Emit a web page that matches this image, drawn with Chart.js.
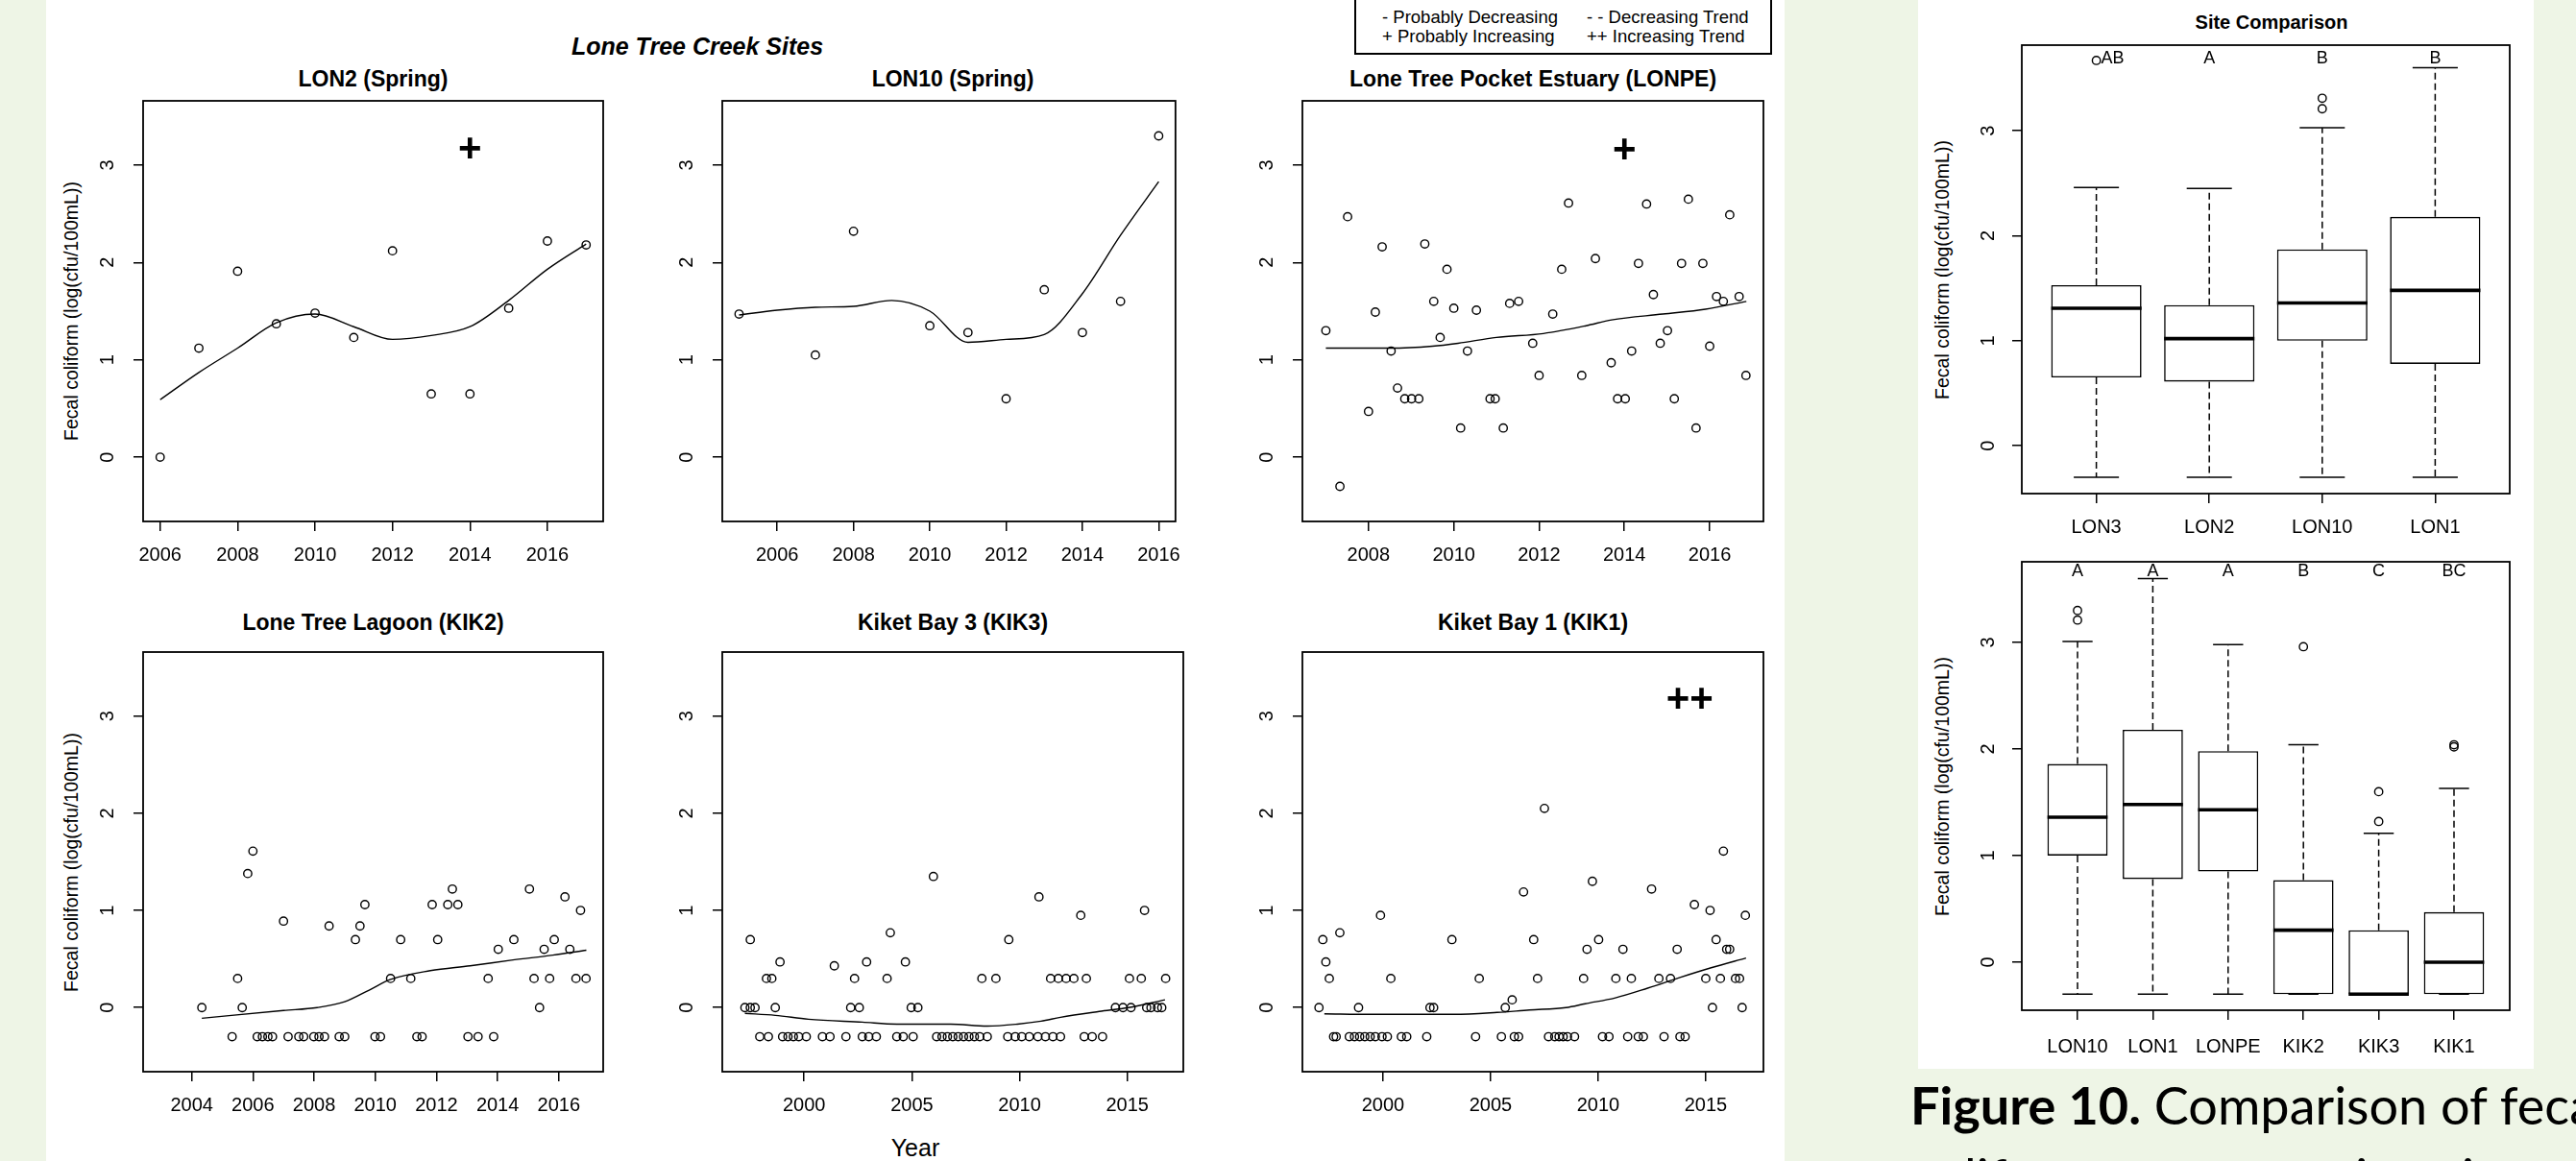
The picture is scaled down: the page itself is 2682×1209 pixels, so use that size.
<!DOCTYPE html>
<html>
<head>
<meta charset="utf-8">
<script src="https://cdn.jsdelivr.net/npm/chart.js@4.4.0/dist/chart.umd.min.js"></script>
<style>
  body { margin: 0; width: 2682px; height: 1209px; background: #eef5e6; position: relative; overflow: hidden;
         font-family: "Liberation Sans", Arial, sans-serif; color: #000; }
  .panel { position: absolute; background: #fff; }
  .t { position: absolute; transform: translate(-50%, -50%); white-space: nowrap; }
  .main { font-weight: bold; font-size: 23px; }
  .ylab { font-size: 19.5px; transform: translate(-50%, -50%) rotate(-90deg); }
  .legend { position: absolute; border: 2px solid #000; background: #fff; }
  .leg { position: absolute; font-size: 18.5px; white-space: nowrap; transform: translateY(-50%); }
  .caption { position: absolute; left: 1989px; top: 1113px; font-family: Lato, "Open Sans", sans-serif;
             font-size: 54px; line-height: 75px; white-space: nowrap; }
</style>
</head>
<body>
<div class="panel" style="left:48px;top:0;width:1810px;height:1209px"></div>
<div class="panel" style="left:1997px;top:0;width:641px;height:1113px"></div>

<div class="legend" style="left:1410px;top:-4px;width:431px;height:57px"></div>
<div class="leg" style="left:1439px;top:18px">- Probably Decreasing</div>
<div class="leg" style="left:1439px;top:38px">+ Probably Increasing</div>
<div class="leg" style="left:1652px;top:18px">- - Decreasing Trend</div>
<div class="leg" style="left:1652px;top:38px">++ Increasing Trend</div>

<div class="caption"><b>Figure 10.</b> Comparison of fecal<br>coliform concentrations in</div>

<script>
// ---------- data ----------
const yTicks = [0, 1, 2, 3];

const lon2Ticks = [2006, 2008, 2010, 2012, 2014, 2016];
const lon10Ticks = [2006, 2008, 2010, 2012, 2014, 2016];
const lonpeTicks = [2008, 2010, 2012, 2014, 2016];
const kik2Ticks = [2004, 2006, 2008, 2010, 2012, 2014, 2016];
const kik3Ticks = [2000, 2005, 2010, 2015];
const kik1Ticks = [2000, 2005, 2010, 2015];

// [year, log fecal coliform]
const lon2Points = [[2006,0],[2007,1.12],[2008,1.91],[2009,1.37],[2010,1.48],[2011,1.23],
  [2012,2.12],[2013,0.65],[2014,0.65],[2015,1.53],[2016,2.22],[2017,2.18]];
const lon2Trend = [[2006,0.59],[2007,0.87],[2008,1.12],[2009,1.38],[2010,1.47],[2011,1.34],
  [2012,1.21],[2013,1.25],[2014,1.34],[2015,1.61],[2016,1.93],[2017,2.19]];

const lon10Points = [[2005,1.47],[2007,1.05],[2008,2.32],[2010,1.35],[2011,1.28],[2012,0.6],
  [2013,1.72],[2014,1.28],[2015,1.6],[2016,3.3]];
const lon10Trend = [[2005,1.46],[2006,1.51],[2007,1.54],[2008,1.55],[2009,1.61],[2010,1.5],
  [2011,1.18],[2012,1.21],[2013,1.26],[2014,1.68],[2015,2.28],[2016,2.83]];

const lonpePoints = [[2007.0,1.3],[2007.33,-0.3],[2007.51,2.47],[2008.0,0.47],[2008.16,1.49],
  [2008.32,2.16],[2008.53,1.09],[2008.68,0.71],[2008.85,0.6],[2009.01,0.6],[2009.18,0.6],
  [2009.32,2.19],[2009.53,1.6],[2009.68,1.23],[2009.84,1.93],[2010.0,1.53],[2010.16,0.3],
  [2010.32,1.09],[2010.53,1.51],[2010.85,0.6],[2010.97,0.6],[2011.16,0.3],[2011.31,1.58],
  [2011.52,1.6],[2011.85,1.17],[2012.0,0.84],[2012.32,1.47],[2012.53,1.93],[2012.69,2.61],
  [2013.0,0.84],[2013.32,2.04],[2013.69,0.97],[2013.84,0.6],[2014.02,0.6],[2014.17,1.09],
  [2014.33,1.99],[2014.52,2.6],[2014.68,1.67],[2014.84,1.17],[2015.01,1.3],[2015.17,0.6],
  [2015.34,1.99],[2015.5,2.65],[2015.68,0.3],[2015.84,1.99],[2016.0,1.14],[2016.16,1.65],
  [2016.32,1.6],[2016.47,2.49],[2016.69,1.65],[2016.85,0.84]];
const lonpeTrend = [[2007.0,1.12],[2008.5,1.12],[2009.5,1.14],[2010.1,1.17],[2011.0,1.23],
  [2012.1,1.27],[2013.1,1.35],[2013.7,1.41],[2014.9,1.47],[2015.9,1.52],[2016.86,1.6]];

const kik2Points = [[2004.33,0],[2005.32,-0.3],[2005.5,0.3],[2005.65,0],[2005.83,1.38],[2006.0,1.61],
  [2006.14,-0.3],[2006.31,-0.3],[2006.49,-0.3],[2006.64,-0.3],[2007.0,0.89],[2007.15,-0.3],
  [2007.5,-0.3],[2007.66,-0.3],[2007.99,-0.3],[2008.16,-0.3],[2008.34,-0.3],[2008.49,0.84],
  [2008.82,-0.3],[2009.0,-0.3],[2009.35,0.7],[2009.5,0.84],[2009.66,1.06],[2009.99,-0.3],
  [2010.17,-0.3],[2010.5,0.3],[2010.83,0.7],[2011.16,0.3],[2011.36,-0.3],[2011.53,-0.3],
  [2011.86,1.06],[2012.04,0.7],[2012.37,1.06],[2012.52,1.22],[2012.7,1.06],[2013.03,-0.3],
  [2013.36,-0.3],[2013.69,0.3],[2013.87,-0.3],[2014.02,0.6],[2014.53,0.7],[2015.04,1.22],
  [2015.19,0.3],[2015.37,0],[2015.52,0.6],[2015.7,0.3],[2015.85,0.7],[2016.2,1.14],
  [2016.36,0.6],[2016.56,0.3],[2016.71,1.0],[2016.89,0.3]];
const kik2Trend = [[2004.33,-0.11],[2005.3,-0.08],[2007.0,-0.03],[2008.1,0],[2009.0,0.06],
  [2009.8,0.18],[2010.5,0.29],[2011.8,0.38],[2013.1,0.43],[2014.5,0.49],[2015.8,0.54],[2016.9,0.59]];

const kik3Points = [[1997.25,0],[1997.5,0],[1997.5,0.7],[1997.72,0],[1997.94,-0.3],[1998.25,0.3],
  [1998.34,-0.3],[1998.5,0.3],[1998.66,0],[1998.88,0.47],[1999.0,-0.3],[1999.25,-0.3],
  [1999.5,-0.3],[1999.75,-0.3],[2000.1,-0.3],[2000.85,-0.3],[2001.2,-0.3],[2001.4,0.43],
  [2001.94,-0.3],[2002.16,0],[2002.34,0.3],[2002.56,0],[2002.7,-0.3],[2002.9,0.47],[2003.0,-0.3],
  [2003.35,-0.3],[2003.85,0.3],[2004.0,0.77],[2004.3,-0.3],[2004.6,-0.3],[2004.7,0.47],
  [2004.97,0],[2005.06,-0.3],[2005.28,0],[2006.0,1.35],[2006.15,-0.3],[2006.4,-0.3],
  [2006.65,-0.3],[2006.9,-0.3],[2007.15,-0.3],[2007.4,-0.3],[2007.65,-0.3],[2007.9,-0.3],
  [2008.15,-0.3],[2008.25,0.3],[2008.5,-0.3],[2008.9,0.3],[2009.45,-0.3],[2009.5,0.7],
  [2009.8,-0.3],[2010.1,-0.3],[2010.45,-0.3],[2010.85,-0.3],[2010.9,1.14],[2011.2,-0.3],
  [2011.44,0.3],[2011.55,-0.3],[2011.8,0.3],[2011.9,-0.3],[2012.16,0.3],[2012.52,0.3],
  [2012.84,0.95],[2013.0,-0.3],[2013.1,0.3],[2013.37,-0.3],[2013.85,-0.3],[2014.45,0],
  [2014.8,0],[2015.1,0.3],[2015.17,0],[2015.65,0.3],[2015.8,1.0],[2015.9,0],[2016.1,0],
  [2016.4,0],[2016.6,0],[2016.78,0.3]];
const kik3Trend = [[1997.25,-0.06],[1998.66,-0.08],[2000.2,-0.12],[2002.7,-0.15],[2004.3,-0.17],
  [2006.8,-0.17],[2008.5,-0.19],[2009.9,-0.17],[2011.0,-0.14],[2011.9,-0.1],[2013.7,-0.04],
  [2015.05,0],[2016.75,0.08]];

const kik1Points = [[1997.02,0],[1997.2,0.7],[1997.34,0.47],[1997.5,0.3],[1997.7,-0.3],[1997.82,-0.3],
  [1997.99,0.77],[1998.43,-0.3],[1998.67,-0.3],[1998.86,0],[1998.91,-0.3],[1999.15,-0.3],
  [1999.4,-0.3],[1999.64,-0.3],[1999.88,0.95],[1999.95,-0.3],[2000.2,-0.3],[2000.36,0.3],
  [2000.85,-0.3],[2001.1,-0.3],[2002.03,-0.3],[2002.18,0],[2002.35,0],[2003.2,0.7],
  [2004.3,-0.3],[2004.47,0.3],[2005.5,-0.3],[2005.68,0],[2006.0,0.08],[2006.1,-0.3],
  [2006.3,-0.3],[2006.53,1.19],[2007.0,0.7],[2007.18,0.3],[2007.5,2.05],[2007.69,-0.3],
  [2007.98,-0.3],[2008.18,-0.3],[2008.37,-0.3],[2008.57,-0.3],[2008.9,-0.3],[2009.32,0.3],
  [2009.48,0.6],[2009.73,1.3],[2010.02,0.7],[2010.2,-0.3],[2010.5,-0.3],[2010.82,0.3],
  [2011.15,0.6],[2011.37,-0.3],[2011.54,0.3],[2011.86,-0.3],[2012.1,-0.3],[2012.48,1.22],
  [2012.82,0.3],[2013.06,-0.3],[2013.36,0.3],[2013.67,0.6],[2013.8,-0.3],[2014.04,-0.3],
  [2014.47,1.06],[2015.0,0.3],[2015.2,1.0],[2015.31,0],[2015.48,0.7],[2015.68,0.3],
  [2015.82,1.61],[2015.97,0.6],[2016.11,0.6],[2016.38,0.3],[2016.57,0.3],[2016.69,0],[2016.84,0.95]];
const kik1Trend = [[1997.27,-0.065],[1999.5,-0.07],[2003.3,-0.07],[2005.3,-0.05],[2006.8,-0.025],
  [2008.5,0],[2009.4,0.04],[2010.8,0.1],[2012.3,0.2],[2013.8,0.31],[2015.25,0.41],[2016.87,0.51]];

// box plot summaries
const topSites = ['LON3', 'LON2', 'LON10', 'LON1'];
const topLow = [-0.3, -0.3, -0.3, -0.3];
const topQ1 = [0.65, 0.61, 1.0, 0.78];
const topMedian = [1.31, 1.02, 1.36, 1.48];
const topQ3 = [1.53, 1.34, 1.87, 2.18];
const topHigh = [2.46, 2.45, 3.03, 3.6];
const topOutliers = [[1, 3.67], [3, 3.31], [3, 3.21]];
const topLetters = ['AB', 'A', 'B', 'B'];

const bottomSites = ['LON10', 'LON1', 'LONPE', 'KIK2', 'KIK3', 'KIK1'];
const bottomLow = [-0.3, -0.3, -0.3, -0.3, -0.3, -0.3];
const bottomQ1 = [1.0, 0.78, 0.85, -0.3, -0.3, -0.3];
const bottomMedian = [1.36, 1.48, 1.43, 0.3, -0.3, 0];
const bottomQ3 = [1.86, 2.18, 1.98, 0.77, 0.3, 0.47];
const bottomHigh = [3.01, 3.6, 2.98, 2.04, 1.21, 1.63];
const bottomOutliers = [[1, 3.30], [1, 3.21], [4, 2.96], [5, 1.6], [5, 1.32], [6, 2.02], [6, 2.04]];
const bottomLetters = ['A', 'A', 'A', 'B', 'C', 'BC'];

// ---------- helpers ----------
const FONT = '"Liberation Sans", Arial, sans-serif';
Chart.defaults.font.family = FONT;
Chart.defaults.color = '#000';

function addText(text, x, y, cls, extra) {
  const d = document.createElement('div');
  d.className = 't ' + (cls || '');
  d.textContent = text;
  d.style.left = x + 'px';
  d.style.top = y + 'px';
  if (extra) Object.assign(d.style, extra);
  document.body.appendChild(d);
}

function addCanvas(frame, pad) {
  const [L, T, R, B] = frame;
  const c = document.createElement('canvas');
  const w = R - L + pad.l + pad.r, h = B - T + pad.t + pad.b;
  c.width = w; c.height = h;
  c.style.cssText = `position:absolute;left:${L - pad.l}px;top:${T - pad.t}px;width:${w}px;height:${h}px`;
  document.body.appendChild(c);
  return c;
}

// box around plot region
const frameBox = {
  id: 'frameBox',
  afterDraw(chart) {
    const a = chart.chartArea, c = chart.ctx;
    c.save();
    c.strokeStyle = '#000';
    c.lineWidth = 1.8;
    c.strokeRect(a.left, a.top, a.right - a.left, a.bottom - a.top);
    c.restore();
  }
};

// R style y labels, rotated
function rotatedYLabels(dx) {
  return {
    id: 'rotY',
    afterDraw(chart) {
      const y = chart.scales.y, c = chart.ctx;
      c.save();
      c.font = '20px ' + FONT;
      c.fillStyle = '#000';
      c.textAlign = 'center';
      c.textBaseline = 'middle';
      yTicks.forEach(v => {
        c.save();
        c.translate(chart.chartArea.left - dx, y.getPixelForValue(v));
        c.rotate(-Math.PI / 2);
        c.fillText(String(v), 0, 0);
        c.restore();
      });
      c.restore();
    }
  };
}

function axisX(min, max, ticks, padding, labels) {
  return {
    type: 'linear', min, max, offset: false,
    afterBuildTicks(s) { s.ticks = ticks.map(v => ({ value: v })); },
    afterFit(s) { s.height = 60; },
    ticks: { autoSkip: false, maxRotation: 0, padding, font: { size: 20 },
             callback: v => labels ? labels[v - 1] : String(v) },
    grid: { drawOnChartArea: false, drawTicks: true, tickLength: 10, color: '#000', lineWidth: 1.5, offset: false },
    border: { display: false }
  };
}

function axisY(min, max) {
  return {
    min, max,
    afterBuildTicks(s) { s.ticks = yTicks.map(v => ({ value: v })); },
    afterFit(s) { s.width = 60; },
    ticks: { display: false },
    grid: { drawOnChartArea: false, drawTicks: true, tickLength: 10, color: '#000', lineWidth: 1.5 },
    border: { display: false }
  };
}

// ---------- trend panels ----------
const panels = [
  { title: 'LON2 (Spring)', frame: [149, 105, 628, 543], titleY: 82, x: [2005.56, 2017.44], ticks: lon2Ticks, pts: lon2Points, trend: lon2Trend, mark: ['+', 2014, 3.15], ylab: true },
  { title: 'LON10 (Spring)', frame: [752, 105, 1232, 543], titleY: 82, x: [2004.56, 2016.44], ticks: lon10Ticks, pts: lon10Points, trend: lon10Trend },
  { title: 'Lone Tree Pocket Estuary (LONPE)', frame: [1356, 105, 1836, 543], titleY: 82, x: [2006.45, 2017.26], ticks: lonpeTicks, pts: lonpePoints, trend: lonpeTrend, mark: ['+', 2014, 3.14] },
  { title: 'Lone Tree Lagoon (KIK2)', frame: [149, 679, 628, 1116], titleY: 648, x: [2002.41, 2017.45], ticks: kik2Ticks, pts: kik2Points, trend: kik2Trend, ylab: true },
  { title: 'Kiket Bay 3 (KIK3)', frame: [752, 679, 1232, 1116], titleY: 648, x: [1996.2, 2017.6], ticks: kik3Ticks, pts: kik3Points, trend: kik3Trend },
  { title: 'Kiket Bay 1 (KIK1)', frame: [1356, 679, 1836, 1116], titleY: 648, x: [1996.25, 2017.68], ticks: kik1Ticks, pts: kik1Points, trend: kik1Trend, mark: ['++', 2014.25, 3.16] }
];

panels.forEach(p => {
  const [L, T, R, B] = p.frame;
  addText(p.title, (L + R) / 2, p.titleY, 'main');
  if (p.ylab) addText('Fecal coliform (log(cfu/100mL))', 74, (T + B) / 2, 'ylab');
  const canvas = addCanvas(p.frame, { l: 60, t: 10, r: 10, b: 60 });
  const markPlugin = {
    id: 'trendMark',
    afterDraw(chart) {
      if (!p.mark) return;
      const c = chart.ctx;
      c.save();
      c.font = 'bold 42px ' + FONT;
      c.fillStyle = '#000';
      c.textAlign = 'center';
      c.textBaseline = 'middle';
      c.fillText(p.mark[0], chart.scales.x.getPixelForValue(p.mark[1]), chart.scales.y.getPixelForValue(p.mark[2]));
      c.restore();
    }
  };
  new Chart(canvas.getContext('2d'), {
    type: 'scatter',
    data: {
      datasets: [
        { data: p.pts.map(d => ({ x: d[0], y: d[1] })), pointStyle: 'circle', pointRadius: 4.2,
          pointBorderWidth: 1.4, pointBorderColor: '#000', pointBackgroundColor: 'rgba(0,0,0,0)' },
        { data: p.trend.map(d => ({ x: d[0], y: d[1] })), showLine: true, pointRadius: 0,
          borderColor: '#000', borderWidth: 1.4, cubicInterpolationMode: 'monotone', fill: false }
      ]
    },
    options: {
      responsive: false, animation: false, events: [], devicePixelRatio: 1,
      layout: { padding: { left: 0, top: 10, right: 10, bottom: 0 } },
      plugins: { legend: { display: false }, tooltip: { enabled: false } },
      scales: { x: axisX(p.x[0], p.x[1], p.ticks, 13), y: axisY(-0.66, 3.66) }
    },
    plugins: [frameBox, rotatedYLabels(37), markPlugin]
  });
});

addText('Lone Tree Creek Sites', 726, 48, 'main', { fontStyle: 'italic', fontSize: '25px' });
addText('Year', 953, 1195, '', { fontSize: '25px' });

// ---------- box plots ----------
function boxPlot(opt) {
  const [L, T, R, B] = opt.frame;
  addText('Fecal coliform (log(cfu/100mL))', 2022, (T + B) / 2, 'ylab');
  const canvas = addCanvas(opt.frame, { l: 60, t: 10, r: 10, b: 60 });
  const positions = opt.sites.map((s, i) => i + 1);
  const whiskers = {
    id: 'whiskers',
    afterDatasetsDraw(chart) {
      const x = chart.scales.x, y = chart.scales.y, c = chart.ctx;
      c.save();
      c.strokeStyle = '#000';
      positions.forEach((pos, i) => {
        const px = x.getPixelForValue(pos);
        const half = x.getPixelForValue(pos + 0.2) - px;
        const boxHalf = x.getPixelForValue(pos + 0.4) - px;
        // dashed whiskers
        c.lineWidth = 1.5;
        c.setLineDash([7, 4]);
        c.beginPath();
        c.moveTo(px, y.getPixelForValue(opt.q3[i]));
        c.lineTo(px, y.getPixelForValue(opt.high[i]));
        c.moveTo(px, y.getPixelForValue(opt.q1[i]));
        c.lineTo(px, y.getPixelForValue(opt.low[i]));
        c.stroke();
        // staples
        c.setLineDash([]);
        c.beginPath();
        [opt.high[i], opt.low[i]].forEach(v => {
          const py = y.getPixelForValue(v);
          c.moveTo(px - half, py);
          c.lineTo(px + half, py);
        });
        c.stroke();
        // median
        c.lineWidth = 3.6;
        c.beginPath();
        const pm = y.getPixelForValue(opt.median[i]);
        c.moveTo(px - boxHalf, pm);
        c.lineTo(px + boxHalf, pm);
        c.stroke();
      });
      // group letters
      c.font = '18px ' + FONT;
      c.fillStyle = '#000';
      c.textBaseline = 'middle';
      opt.letters.forEach((t, i) => {
        const px = x.getPixelForValue(i + 1);
        const crowded = opt.outliers.some(o => o[0] === i + 1 && o[1] > 3.55);
        c.textAlign = crowded ? 'left' : 'center';
        c.fillText(t, crowded ? px + 5 : px, y.getPixelForValue(opt.letterY));
      });
      c.restore();
    }
  };
  new Chart(canvas.getContext('2d'), {
    type: 'bar',
    data: {
      datasets: [
        { type: 'bar', data: positions.map((pos, i) => ({ x: pos, y: [opt.q1[i], opt.q3[i]] })),
          backgroundColor: '#fff', borderColor: '#000', borderWidth: 1.6, borderSkipped: false,
          barPercentage: 0.8, categoryPercentage: 1, grouped: false },
        { type: 'scatter', data: opt.outliers.map(o => ({ x: o[0], y: o[1] })), pointStyle: 'circle',
          pointRadius: 4.2, pointBorderWidth: 1.4, pointBorderColor: '#000', pointBackgroundColor: 'rgba(0,0,0,0)' }
      ]
    },
    options: {
      responsive: false, animation: false, events: [], devicePixelRatio: 1,
      layout: { padding: { left: 0, top: 10, right: 10, bottom: 0 } },
      plugins: { legend: { display: false }, tooltip: { enabled: false } },
      scales: {
        x: axisX(opt.x[0], opt.x[1], positions, opt.labelPad, opt.sites),
        y: axisY(opt.y[0], opt.y[1])
      }
    },
    plugins: [frameBox, rotatedYLabels(35), whiskers]
  });
}

addText('Site Comparison', 2365, 23, 'main', { fontSize: '20px' });

boxPlot({ frame: [2105, 47, 2613, 514], x: [0.34, 4.66], y: [-0.456, 3.816], labelPad: 13,
  sites: topSites, low: topLow, q1: topQ1, median: topMedian, q3: topQ3, high: topHigh,
  outliers: topOutliers, letters: topLetters, letterY: 3.69 });

boxPlot({ frame: [2105, 585, 2613, 1052], x: [0.26, 6.74], y: [-0.451, 3.757], labelPad: 16,
  sites: bottomSites, low: bottomLow, q1: bottomQ1, median: bottomMedian, q3: bottomQ3, high: bottomHigh,
  outliers: bottomOutliers, letters: bottomLetters, letterY: 3.667 });
</script>
</body>
</html>
